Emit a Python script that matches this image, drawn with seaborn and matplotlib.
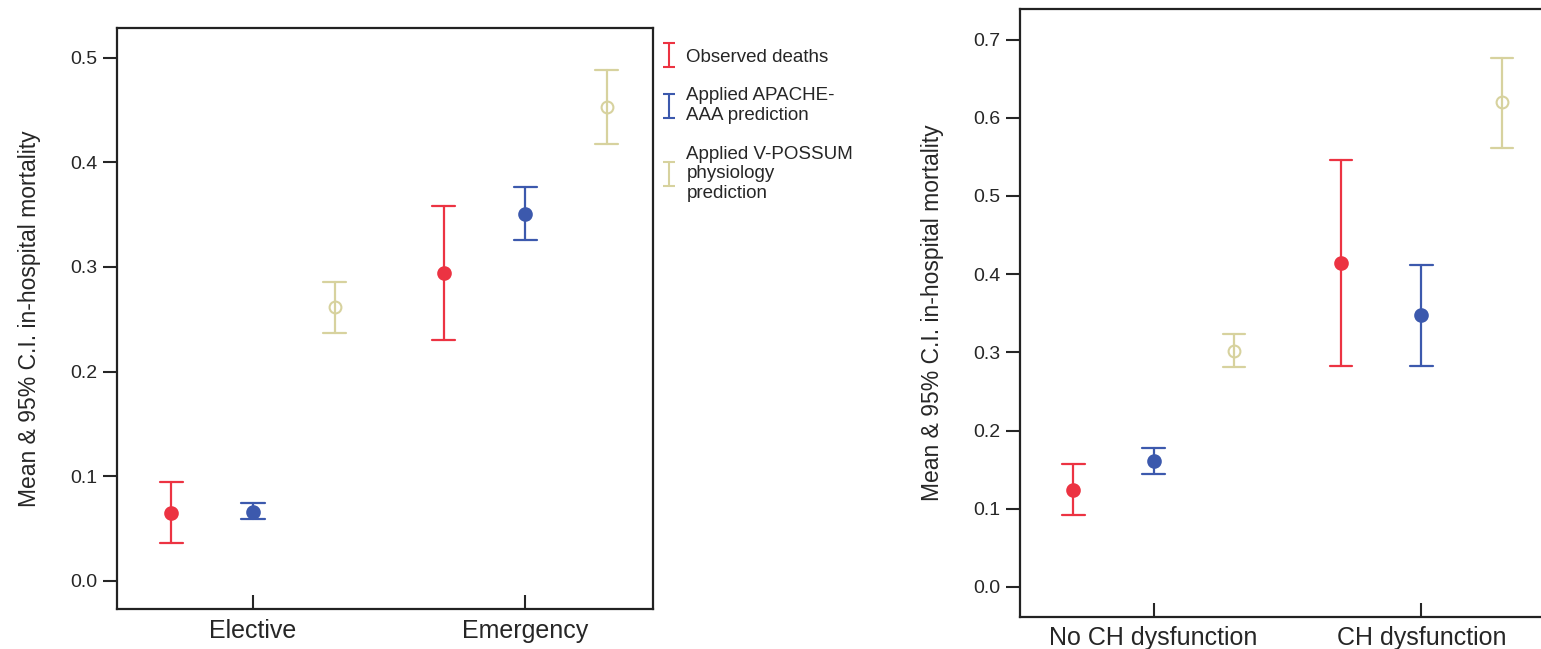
import matplotlib
matplotlib.use("Agg")
import matplotlib.pyplot as plt
import matplotlib.colors as mcolors
from matplotlib.path import Path
from matplotlib.lines import Line2D
import seaborn as sns
import pandas as pd

# series shown in both panels
series = ["Observed deaths",
          "Applied APACHE-\nAAA prediction",
          "Applied V-POSSUM\nphysiology\nprediction"]
colors = ["#ec3342", "#3c59ad", "#d7d29e"]

# left panel: admission type
cats_left = ["Elective", "Emergency"]
mean_left = [[0.065, 0.294], [0.066, 0.351], [0.262, 0.453]]
low_left = [[0.036, 0.230], [0.059, 0.326], [0.237, 0.417]]
high_left = [[0.095, 0.358], [0.074, 0.376], [0.286, 0.488]]

# right panel: cardiac / haemodynamic dysfunction
cats_right = ["No CH dysfunction", "CH dysfunction"]
mean_right = [[0.124, 0.414], [0.161, 0.348], [0.302, 0.620]]
low_right = [[0.092, 0.283], [0.144, 0.283], [0.281, 0.561]]
high_right = [[0.157, 0.546], [0.178, 0.412], [0.324, 0.677]]

ylabel = "Mean & 95% C.I. in-hospital mortality"


def to_frame(cats, mean, low, high):
    # three rows per point: lower, mean, upper -> median gives mean, min/max gives CI
    rows = []
    for s, name in enumerate(series):
        for c, cat in enumerate(cats):
            for v in (low[s][c], mean[s][c], high[s][c]):
                rows.append({"group": cat, "series": name, "value": v})
    return pd.DataFrame(rows)


def draw(ax, cats, mean, low, high):
    df = to_frame(cats, mean, low, high)
    sns.pointplot(data=df, x="group", y="value", hue="series", order=cats,
                  hue_order=series, palette=colors, estimator="median",
                  errorbar=lambda v: (v.min(), v.max()), dodge=0.6,
                  linestyle="none", markers="o", markersize=8.5,
                  capsize=0.085, err_kws={"linewidth": 1.6}, legend=False, ax=ax)
    khaki = mcolors.to_hex(colors[2])
    for ln in ax.lines:
        if ln.get_marker() == "o":
            ln.set_zorder(5)
            if mcolors.to_hex(ln.get_color()) == khaki:
                ln.set_markerfacecolor("none")
                ln.set_markeredgewidth(1.5)
    ax.set_xlabel("")
    ax.set_ylabel(ylabel, fontsize=16.5, labelpad=21)
    ax.tick_params(axis="y", direction="out", length=10, width=1.5,
                   labelsize=14, pad=4)
    ax.tick_params(axis="x", direction="in", length=10, width=1.5,
                   labelsize=18, pad=7)
    for sp in ax.spines.values():
        sp.set_linewidth(1.6)
        sp.set_color("#222222")


sns.set_style("ticks")
plt.rcParams["font.family"] = ["Liberation Sans", "DejaVu Sans"]

fig = plt.figure(figsize=(15.41, 6.49), dpi=100)
ax1 = fig.add_axes([0.0759, 0.0613, 0.3479, 0.8952])
ax2 = fig.add_axes([0.6616, 0.0499, 0.3478, 0.9361])

draw(ax1, cats_left, mean_left, low_left, high_left)
ax1.set_xlim(-0.5, 1.47)
ax1.set_ylim(-0.027, 0.528)
ax1.set_yticks([0.0, 0.1, 0.2, 0.3, 0.4, 0.5])

draw(ax2, cats_right, mean_right, low_right, high_right)
ax2.set_xlim(-0.5, 1.5)
ax2.set_ylim(-0.038, 0.739)
ax2.set_yticks([0.0, 0.1, 0.2, 0.3, 0.4, 0.5, 0.6, 0.7])

# legend with I-beam symbols
ibeam = Path([(-0.5, -1), (0.5, -1), (0, -1), (0, 1), (-0.5, 1), (0.5, 1)],
             [Path.MOVETO, Path.LINETO, Path.MOVETO, Path.LINETO,
              Path.MOVETO, Path.LINETO])
handles = [Line2D([], [], linestyle="none", marker=ibeam, markersize=17,
                  markerfacecolor="none", markeredgecolor=c, markeredgewidth=1.5)
           for c in colors]
fig.legend(handles, series, loc="upper left", bbox_to_anchor=(0.429, 0.925),
           frameon=False, fontsize=13.5, handlelength=0.8, handletextpad=0.55,
           labelspacing=1.15, borderpad=0, borderaxespad=0)

fig.savefig("out.png", dpi=100)
